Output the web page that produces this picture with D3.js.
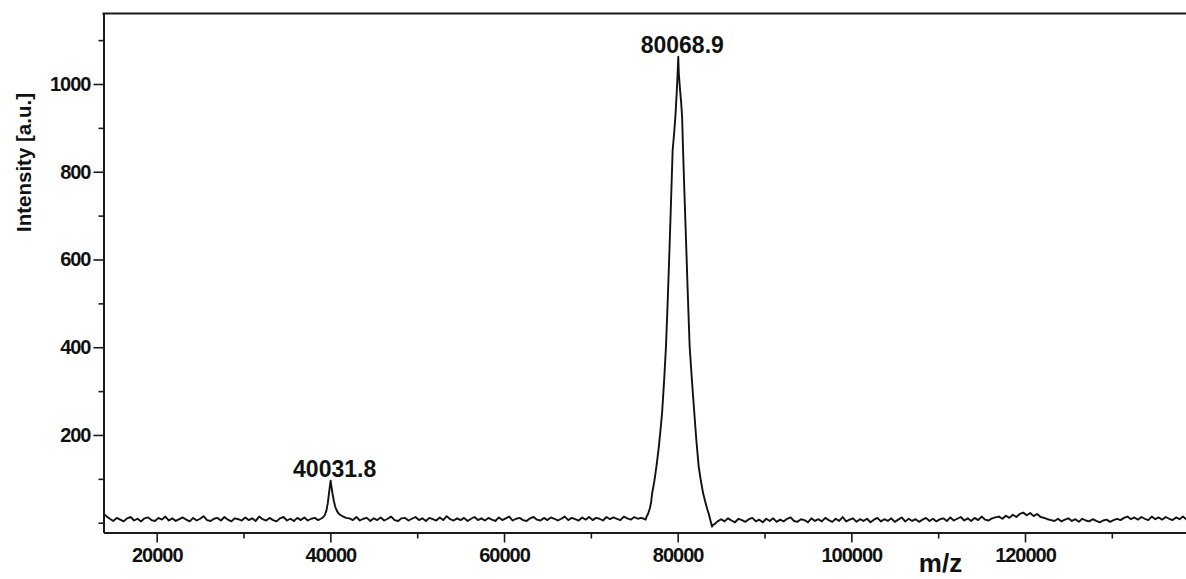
<!DOCTYPE html>
<html>
<head>
<meta charset="utf-8">
<script src="https://cdn.jsdelivr.net/npm/d3@7"></script>
<style>
  html, body { margin: 0; padding: 0; background: #fff; }
  svg { display: block; }
  text { font-family: "Liberation Sans", Arial, Helvetica, sans-serif; font-weight: bold; fill: #111; }
</style>
</head>
<body>
<svg id="chart" width="1186" height="579"></svg>
<script>
// ---- MALDI-TOF spectrum: intensity vs m/z ----

// visible axis extents
const mzRange = [13873, 138542];
const intensityRange = [-22.3, 1160.7];

// tick values
const mzMajorTicks = [20000, 40000, 60000, 80000, 100000, 120000];
const mzMinorTicks = [30000, 50000, 70000, 90000, 110000, 130000];
const intensityMajorTicks = [200, 400, 600, 800, 1000];
const intensityMinorTicks = [0, 100, 300, 500, 700, 900, 1100];

// baseline readings on a regular m/z grid
const gridStep = 400;
const noiseLowStart = 13800;   // 13800 .. 38600
const noiseLow = [
  22, 15, 9, 4, 11, 7, 3, 10, 13, 5,
  9, 3, 10, 12, 6, 4, 11, 7, 14, 5,
  10, 4, 8, 12, 7, 3, 11, 5, 9, 15,
  6, 4, 9, 11, 5, 13, 7, 3, 10, 8,
  5, 12, 6, 10, 4, 14, 8, 5, 11, 6,
  3, 10, 13, 5, 9, 4, 11, 6, 12, 5,
  9, 11, 6
];
const noiseMidStart = 42200;   // 42200 .. 75800
const noiseMid = [
  10, 6, 13, 5, 9, 11, 4, 10, 6, 12,
  5, 9, 14, 6, 4, 10, 11, 5, 9, 13,
  6, 10, 4, 11, 8, 5, 12, 6, 15, 8,
  5, 10, 6, 11, 4, 9, 13, 6, 10, 5,
  11, 7, 4, 12, 6, 10, 14, 5, 9, 11,
  6, 4, 10, 13, 7, 5, 11, 6, 12, 9,
  5, 9, 14, 6, 11, 8, 5, 12, 7, 13,
  6, 11, 9, 5, 13, 8, 12, 9, 6, 14,
  10, 7, 13, 9, 11
];
const noiseHighStart = 84200;  // 84200 .. 140200
const noiseHigh = [
  -4, 3, 8, 3, 10, 5, 1, 9, 6, 2,
  8, 11, 3, 7, 1, 9, 4, 10, 2, 7,
  3, 9, 12, 4, 2, 8, 6, 1, 10, 4,
  8, 3, 11, 6, 2, 9, 4, 13, 3, 7,
  10, 2, 8, 4, 9, 1, 7, 11, 3, 8,
  4, 10, 2, 7, 12, 3, 9, 4, 8, 2,
  7, 11, 4, 9, 3, 8, 10, 4, 12, 5,
  9, 13, 5, 10, 4, 11, 6, 14, 7, 5,
  10, 12, 14, 9, 16, 11, 18, 13, 20, 23,
  17, 22, 15, 20, 13, 11, 8, 6, 4, 9,
  3, 7, 10, 4, 8, 2, 9, 5, 3, 8,
  4, 1, 5, 7, 2, 6, 9, 6, 11, 14,
  8, 12, 7, 13, 9, 6, 14, 8, 12, 7,
  13, 9, 6, 12, 8, 14, 7, 11, 13, 8,
  12
];

// [m/z, intensity] around the two peaks
const halfMassPeak = [
  [38900, 9], [39150, 12], [39350, 17], [39550, 28], [39700, 44], [39850, 68],
  [39950, 84], [40031.8, 96], [40120, 83], [40250, 66], [40400, 50], [40550, 37],
  [40750, 27], [40950, 21], [41200, 17], [41500, 14], [41800, 11]
];
const mainPeak = [
  [76100, 9], [76300, 7], [76450, 15], [76600, 21], [76800, 33], [76950, 48],
  [77050, 66], [77300, 93], [77550, 128], [77800, 168], [78000, 207], [78200, 249],
  [78450, 328], [78650, 401], [78850, 505], [79050, 620], [79250, 742], [79420, 849],
  [79600, 890], [79750, 930], [79900, 985], [80000, 1027], [80068.9, 1062],
  [80130, 1024], [80260, 990], [80400, 958], [80510, 925], [80620, 849], [80800, 738],
  [81000, 621], [81150, 530], [81380, 401], [81650, 322], [81920, 249], [82150, 188],
  [82420, 128], [82650, 98], [82930, 67], [83200, 46], [83400, 31], [83570, 21],
  [83750, 7], [83960, -9], [84050, -5]
];

// ---- layout ----
const plotLeft = 103.5, plotRight = 1186, plotTop = 13.5, plotBottom = 532.5;
const tickFont = "20px";

const svg = d3.select("#chart");

const x = d3.scaleLinear().domain(mzRange).range([plotLeft, plotRight]);
const y = d3.scaleLinear().domain(intensityRange).range([plotBottom, plotTop]);

// assemble the full trace
const onGrid = (start, vals) => vals.map((v, i) => [start + i * gridStep, v]);
const trace = [
  ...onGrid(noiseLowStart, noiseLow),
  ...halfMassPeak,
  ...onGrid(noiseMidStart, noiseMid),
  ...mainPeak,
  ...onGrid(noiseHighStart, noiseHigh)
];

svg.append("clipPath").attr("id", "plot-clip")
  .append("rect")
  .attr("x", plotLeft).attr("y", plotTop)
  .attr("width", plotRight - plotLeft).attr("height", plotBottom - plotTop);

const line = d3.line().x(d => x(d[0])).y(d => y(d[1]));

svg.append("path")
  .datum(trace)
  .attr("clip-path", "url(#plot-clip)")
  .attr("fill", "none")
  .attr("stroke", "#111")
  .attr("stroke-width", 1.9)
  .attr("stroke-linejoin", "round")
  .attr("d", line);

// ---- axes ----
function styleAxis(g) {
  g.attr("font-family", null).attr("font-size", null);
  g.selectAll("path.domain").attr("stroke", "#1a1a1a").attr("stroke-width", 2);
  g.selectAll(".tick line").attr("stroke", "#1a1a1a").attr("stroke-width", 1.6);
  g.selectAll(".tick text")
    .attr("fill", "#111")
    .style("font-size", tickFont)
    .style("letter-spacing", "-1px");
}

// y axis (left)
svg.append("g")
  .attr("transform", `translate(${plotLeft},0)`)
  .call(d3.axisLeft(y).tickValues(intensityMinorTicks).tickSize(5).tickSizeOuter(0).tickFormat(""))
  .call(g => g.select(".domain").remove())
  .call(styleAxis);

svg.append("g")
  .attr("transform", `translate(${plotLeft},0)`)
  .call(d3.axisLeft(y).tickValues(intensityMajorTicks).tickSize(10).tickSizeOuter(0)
    .tickPadding(3).tickFormat(d3.format("d")))
  .call(styleAxis);

// x axis (bottom)
svg.append("g")
  .attr("transform", `translate(0,${plotBottom})`)
  .call(d3.axisBottom(x).tickValues(mzMinorTicks).tickSize(6).tickSizeOuter(0).tickFormat(""))
  .call(g => g.select(".domain").remove())
  .call(styleAxis);

svg.append("g")
  .attr("transform", `translate(0,${plotBottom})`)
  .call(d3.axisBottom(x).tickValues(mzMajorTicks).tickSize(10).tickSizeOuter(0)
    .tickPadding(5).tickFormat(d3.format("d")))
  .call(styleAxis);

// top frame line
svg.append("line")
  .attr("x1", plotLeft - 1).attr("x2", plotRight)
  .attr("y1", plotTop).attr("y2", plotTop)
  .attr("stroke", "#1a1a1a").attr("stroke-width", 2);

// ---- peak annotations ----
[halfMassPeak, mainPeak].forEach(peak => {
  const apex = d3.greatest(peak, d => d[1]);
  svg.append("text")
    .attr("x", x(apex[0]) + 4)
    .attr("y", y(apex[1]) - 3.5)
    .attr("text-anchor", "middle")
    .style("font-size", "23px")
    .text(apex[0].toFixed(1));
});

// ---- axis titles ----
svg.append("text")
  .attr("transform", `translate(31,162.5) rotate(-90)`)
  .attr("text-anchor", "middle")
  .style("font-size", "20.5px")
  .text("Intensity [a.u.]");

svg.append("text")
  .attr("x", 940.5)
  .attr("y", 572)
  .attr("text-anchor", "middle")
  .style("font-size", "26px")
  .text("m/z");
</script>
</body>
</html>
